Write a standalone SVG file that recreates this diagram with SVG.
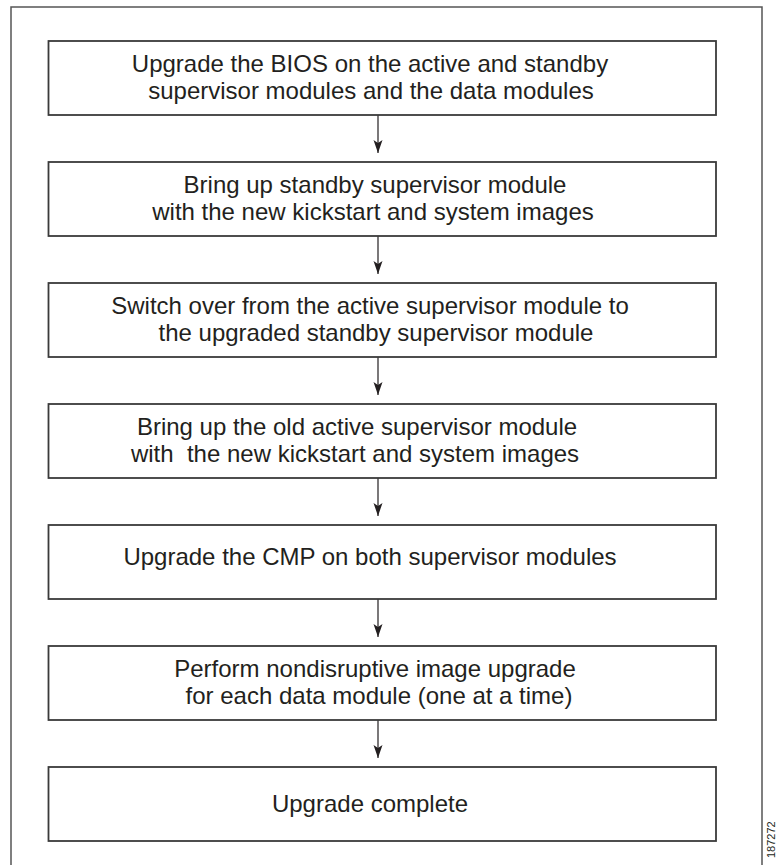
<svg xmlns="http://www.w3.org/2000/svg" width="776" height="865" viewBox="0 0 776 865">
<style>
.frame{fill:none;stroke:#555;stroke-width:1.5}
.box{fill:#fff;stroke:#3a3a3a;stroke-width:1.8}
.t{font-family:"Liberation Sans",Arial,sans-serif;font-size:24px;fill:#231f20;text-anchor:middle}
.c{stroke:#231f20;stroke-width:1.2;fill:none}
.id{font-family:"Liberation Sans",Arial,sans-serif;font-size:11px;fill:#231f20}
</style>
<defs>
<marker id="ah" markerWidth="10" markerHeight="14" refX="5" refY="13" orient="auto-start-reverse" markerUnits="userSpaceOnUse" viewBox="0 0 10 14">
<path d="M0,0 L5,3 L10,0 L5,14 Z" fill="#231f20" transform="rotate(0)"/>
</marker>
</defs>
<rect class="frame" x="11" y="7" width="751" height="870"/>
<g id="connectors">
<path class="c" d="M378,115 V153"/><path d="M373.5,140 L378,143 L382.5,140 L378,153 Z" fill="#231f20"/>
<path class="c" d="M378,236 V274"/><path d="M373.5,261 L378,264 L382.5,261 L378,274 Z" fill="#231f20"/>
<path class="c" d="M378,357 V395"/><path d="M373.5,382 L378,385 L382.5,382 L378,395 Z" fill="#231f20"/>
<path class="c" d="M378,478 V516"/><path d="M373.5,503 L378,506 L382.5,503 L378,516 Z" fill="#231f20"/>
<path class="c" d="M378,599 V637"/><path d="M373.5,624 L378,627 L382.5,624 L378,637 Z" fill="#231f20"/>
<path class="c" d="M378,720 V758"/><path d="M373.5,745 L378,748 L382.5,745 L378,758 Z" fill="#231f20"/>
</g>
<g id="n1"><rect class="box" x="48.5" y="41" width="667.5" height="74"/>
<text class="t" x="370" y="72">Upgrade the BIOS on the active and standby</text>
<text class="t" x="371" y="99">supervisor modules and the data modules</text></g>
<g id="n2"><rect class="box" x="48.5" y="162" width="667.5" height="74"/>
<text class="t" x="375" y="193">Bring up standby supervisor module</text>
<text class="t" x="373" y="220">with the new kickstart and system images</text></g>
<g id="n3"><rect class="box" x="48.5" y="283" width="667.5" height="74"/>
<text class="t" x="370" y="314">Switch over from the active supervisor module to</text>
<text class="t" x="376" y="341">the upgraded standby supervisor module</text></g>
<g id="n4"><rect class="box" x="48.5" y="404" width="667.5" height="74"/>
<text class="t" x="357" y="435">Bring up the old active supervisor module</text>
<text class="t" x="355" y="462" xml:space="preserve">with  the new kickstart and system images</text></g>
<g id="n5"><rect class="box" x="48.5" y="525" width="667.5" height="74"/>
<text class="t" x="370" y="565">Upgrade the CMP on both supervisor modules</text></g>
<g id="n6"><rect class="box" x="48.5" y="646" width="667.5" height="74"/>
<text class="t" x="375" y="677">Perform nondisruptive image upgrade</text>
<text class="t" x="379" y="704">for each data module (one at a time)</text></g>
<g id="n7"><rect class="box" x="48.5" y="767" width="667.5" height="74"/>
<text class="t" x="370" y="812">Upgrade complete</text></g>
<text class="id" transform="translate(775,858) rotate(-90)">187272</text>
</svg>
